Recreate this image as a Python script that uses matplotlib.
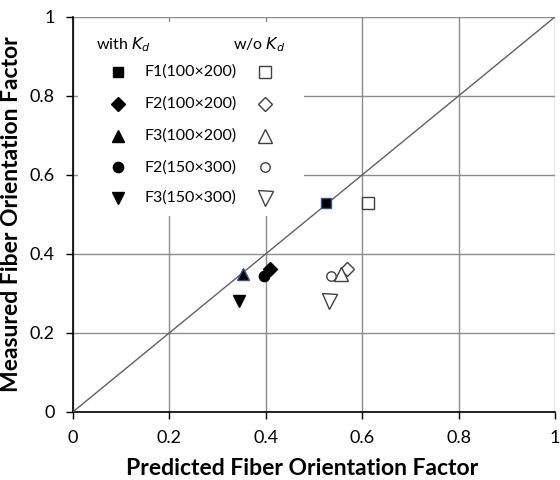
import matplotlib
matplotlib.use("Agg")
import matplotlib.pyplot as plt
from matplotlib.patches import Rectangle

plt.rcParams['font.family'] = ['Lato', 'DejaVu Sans']

# measured vs predicted fiber orientation factor
series = ["F1(100\u00d7200)", "F2(100\u00d7200)", "F3(100\u00d7200)",
          "F2(150\u00d7300)", "F3(150\u00d7300)"]
markers = ["s", "D", "^", "o", "v"]
measured = [0.530, 0.362, 0.350, 0.343, 0.282]
pred_with_kd = [0.525, 0.410, 0.354, 0.396, 0.345]
pred_wo_kd = [0.613, 0.568, 0.556, 0.535, 0.532]
edge_with_kd = ["#2F5597", "black", "#2F5597", "black", "black"]
size_filled = [7.4, 7.0, 9.2, 7.4, 9.2]
size_open = [8.4, 7.6, 10.0, 6.8, 10.8]

fig = plt.figure(figsize=(5.6, 4.8), dpi=100)
ax = fig.add_axes([0.130, 0.1417, 0.861, 0.823])

ax.set_xlim(0, 1)
ax.set_ylim(0, 1)
ticks = [0, 0.2, 0.4, 0.6, 0.8, 1]
ticklabels = ["0", "0.2", "0.4", "0.6", "0.8", "1"]
ax.set_xticks(ticks)
ax.set_xticklabels(ticklabels)
ax.set_yticks(ticks)
ax.set_yticklabels(ticklabels)
ax.tick_params(direction="out", length=5, width=1, labelsize=13, colors="black", pad=8)
ax.grid(True, color="#8c8c8c", linewidth=1)
ax.set_axisbelow(True)
for s in ["top", "right"]:
    ax.spines[s].set_visible(False)
for s in ["left", "bottom"]:
    ax.spines[s].set_linewidth(1.2)

# 1:1 line
ax.plot([0, 1], [0, 1], color="#606060", linewidth=1, zorder=3)

# white legend area
ax.add_patch(Rectangle((0.01, 0.496), 0.47, 0.49, transform=ax.transAxes,
                       facecolor="white", edgecolor="none", zorder=2))

for i in range(len(series)):
    ax.plot(pred_with_kd[i], measured[i], marker=markers[i], markersize=size_filled[i],
            color="black", markeredgecolor=edge_with_kd[i], markeredgewidth=1,
            linestyle="none", zorder=4)
    ax.plot(pred_wo_kd[i], measured[i], marker=markers[i], markersize=size_open[i],
            markerfacecolor="white", markeredgecolor="#404040", markeredgewidth=1,
            linestyle="none", zorder=4)

# legend drawn by hand
ax.text(0.048, 0.929, "with $K_d$", transform=ax.transAxes, fontsize=11.5,
        va="center", ha="left", zorder=5)
ax.text(0.332, 0.929, "w/o $K_d$", transform=ax.transAxes, fontsize=11.5,
        va="center", ha="left", zorder=5)
rows_y = [0.861, 0.780, 0.699, 0.620, 0.542]
for i in range(len(series)):
    ax.plot(0.093, rows_y[i], marker=markers[i], markersize=size_filled[i], color="black",
            linestyle="none", transform=ax.transAxes, zorder=5, clip_on=False)
    ax.text(0.149, rows_y[i], series[i], transform=ax.transAxes, fontsize=11.5,
            va="center", ha="left", zorder=5)
    ax.plot(0.398, rows_y[i], marker=markers[i], markersize=size_open[i],
            markerfacecolor="white", markeredgecolor="#404040", markeredgewidth=1,
            linestyle="none", transform=ax.transAxes, zorder=5, clip_on=False)

ax.set_xlabel("Predicted Fiber Orientation Factor", fontsize=16.5, fontweight="bold")
ax.set_ylabel("Measured Fiber Orientation Factor", fontsize=16.5, fontweight="bold")
ax.xaxis.set_label_coords(0.475, -0.117)
ax.yaxis.set_label_coords(-0.105, 0.5)

fig.savefig("out.png", dpi=100)
